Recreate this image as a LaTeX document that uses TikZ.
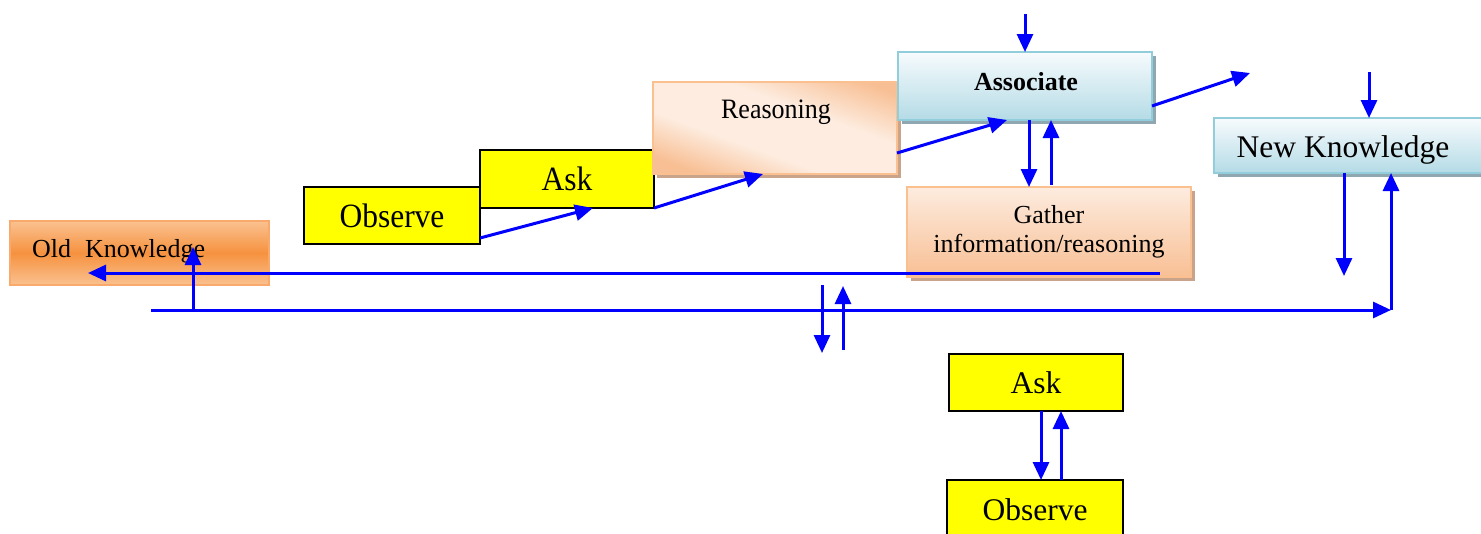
\documentclass[tikz,border=0pt]{standalone}
\usepackage{fontspec}
\setmainfont{Liberation Serif}
\usetikzlibrary{arrows.meta,shadows}

\definecolor{flowblue}{HTML}{0000FF}
\definecolor{boxyellow}{HTML}{FFFF00}
\definecolor{orangemid}{HTML}{F6923F}
\definecolor{orangelight}{HTML}{FAC190}
\definecolor{orangeline}{HTML}{F9A96C}
\definecolor{peachlight}{HTML}{FDECDF}
\definecolor{peachdark}{HTML}{F8BF94}
\definecolor{peachline}{HTML}{FAC090}
\definecolor{peachshadow}{HTML}{C9A48A}
\definecolor{bluetop}{HTML}{F7FBFD}
\definecolor{bluebottom}{HTML}{B4DBE6}
\definecolor{blueline}{HTML}{92CDDC}
\definecolor{blueshadow}{HTML}{8FA7B1}

\pgfdeclarehorizontalshading{peachband}{100bp}{%
  color(0bp)=(peachdark); color(24bp)=(peachdark); color(40bp)=(peachlight);
  color(60bp)=(peachlight); color(78bp)=(peachdark); color(100bp)=(peachdark)}

\newcommand{\bigtext}{\fontsize{31.5}{36}\selectfont}
\newcommand{\smalltext}{\fontsize{26}{30}\selectfont}

\tikzset{
  arr/.style={draw=flowblue, line width=3pt, -{Triangle[length=18pt,width=16pt]}},
  boxbase/.style={inner sep=0pt, outer sep=0pt, line width=1.8pt},
  yellowbox/.style={boxbase, draw=black, fill=boxyellow, font=\bigtext},
  oldbox/.style={boxbase, draw=orangeline, top color=orangelight, bottom color=orangelight, middle color=orangemid},
  peachbox/.style={boxbase, draw=peachline, top color=peachlight, bottom color=peachdark,
    drop shadow={shadow xshift=4pt, shadow yshift=-4pt, fill=peachshadow, opacity=1}},
  bluebox/.style={boxbase, draw=blueline, top color=bluetop, bottom color=bluebottom,
    drop shadow={shadow xshift=4pt, shadow yshift=-4pt, fill=blueshadow, opacity=1}},
  label text/.style={inner sep=0pt}
}

\begin{document}
\begin{tikzpicture}[x=1pt, y=-1pt]
\useasboundingbox (0,0) rectangle (1481,533);

% ---- boxes ----
\node[oldbox, minimum width=259pt, minimum height=64pt] (oldk) at (139.5,253) {};
\node[label text, font=\smalltext, anchor=west] (oldktext) at (32,251) {Old\hspace{14pt}Knowledge};

\node[yellowbox, minimum width=176pt, minimum height=57pt] (obs1) at (392,215.5) {\scalebox{1}[1.08]{Observe}};
\node[yellowbox, minimum width=174pt, minimum height=58pt] (ask1) at (567,179) {\scalebox{1}[1.08]{Ask}};

\node[peachbox, shading=peachband, shading angle=70, minimum width=244pt, minimum height=92pt] (reas) at (775,128) {};
\node[label text, font=\smalltext] (reastext) at (776,112) {\scalebox{1}[1.08]{Reasoning}};

\node[bluebox, minimum width=254pt, minimum height=68pt] (assoc) at (1025,86) {};
\node[label text, font=\smalltext\bfseries] (assoctext) at (1026,82) {Associate};

\node[peachbox, minimum width=284pt, minimum height=90pt, font=\smalltext, align=center] (gath) at (1049,232)
  {Gather\\[-1pt]information/reasoning};

\node[bluebox, minimum width=272pt, minimum height=55pt] (newk) at (1350,145.5) {};
\node[label text, font=\bigtext] (newktext) at (1343,150) {New Knowledge};

\node[yellowbox, minimum width=174pt, minimum height=57pt] (ask2) at (1036,382.5) {Ask};
\node[yellowbox, minimum width=176pt, minimum height=60pt] (obs2) at (1035,510) {Observe};

% ---- free ends ----
\coordinate (associn)  at (1025,14);
\coordinate (assocout) at (1250,73);
\coordinate (newkin)   at (1369,72);
\coordinate (newkout)  at (1344,276);
\coordinate (lstart)   at (151,310);
\coordinate (corner)   at (1391,310);
\coordinate (okin)     at (193,247);
\coordinate (downtop)  at (822,285);
\coordinate (downend)  at (822,353);
\coordinate (uptop)    at (843,286);
\coordinate (upbottom) at (843,350);

% ---- staircase ----
\draw[arr] ([yshift=6pt]obs1.south east) -- ([xshift=26pt]ask1.south);
\draw[arr] (ask1.south east) -- ([xshift=-12pt]reas.south);
\draw[arr] ([yshift=-25pt]reas.east) -- ([xshift=-18pt]assoc.south);
\draw[arr] ([yshift=-20pt]assoc.east) -- (assocout);
\draw[arr] (associn) -- (assoc.north);

% ---- associate / gather ----
\draw[arr] ([xshift=4pt]assoc.south) -- ([xshift=-20pt]gath.north);
\draw[arr] ([xshift=2pt,yshift=2pt]gath.north) -- ([xshift=26pt]assoc.south);

% ---- feedback to old knowledge ----
\draw[arr] ([xshift=111pt,yshift=4pt]gath.south) -- ([xshift=78pt,yshift=-20pt]oldk.west);

% ---- long line to new knowledge ----
\draw[arr] (lstart) -- (corner);
\draw[arr] (corner) -- (corner |- newk.south);
\draw[arr] (lstart -| okin) -- (okin);

% ---- new knowledge ----
\draw[arr] (newkin) -- (newkin |- newk.north);
\draw[arr] ([xshift=-6pt]newk.south) -- (newkout);

% ---- middle pair ----
\draw[arr] (downtop) -- (downend);
\draw[arr] (upbottom) -- (uptop);

% ---- ask / observe ----
\draw[arr] ([xshift=5pt]ask2.south) -- ([xshift=6pt]obs2.north);
\draw[arr] ([xshift=26pt]obs2.north) -- ([xshift=25pt]ask2.south);
\end{tikzpicture}
\end{document}
